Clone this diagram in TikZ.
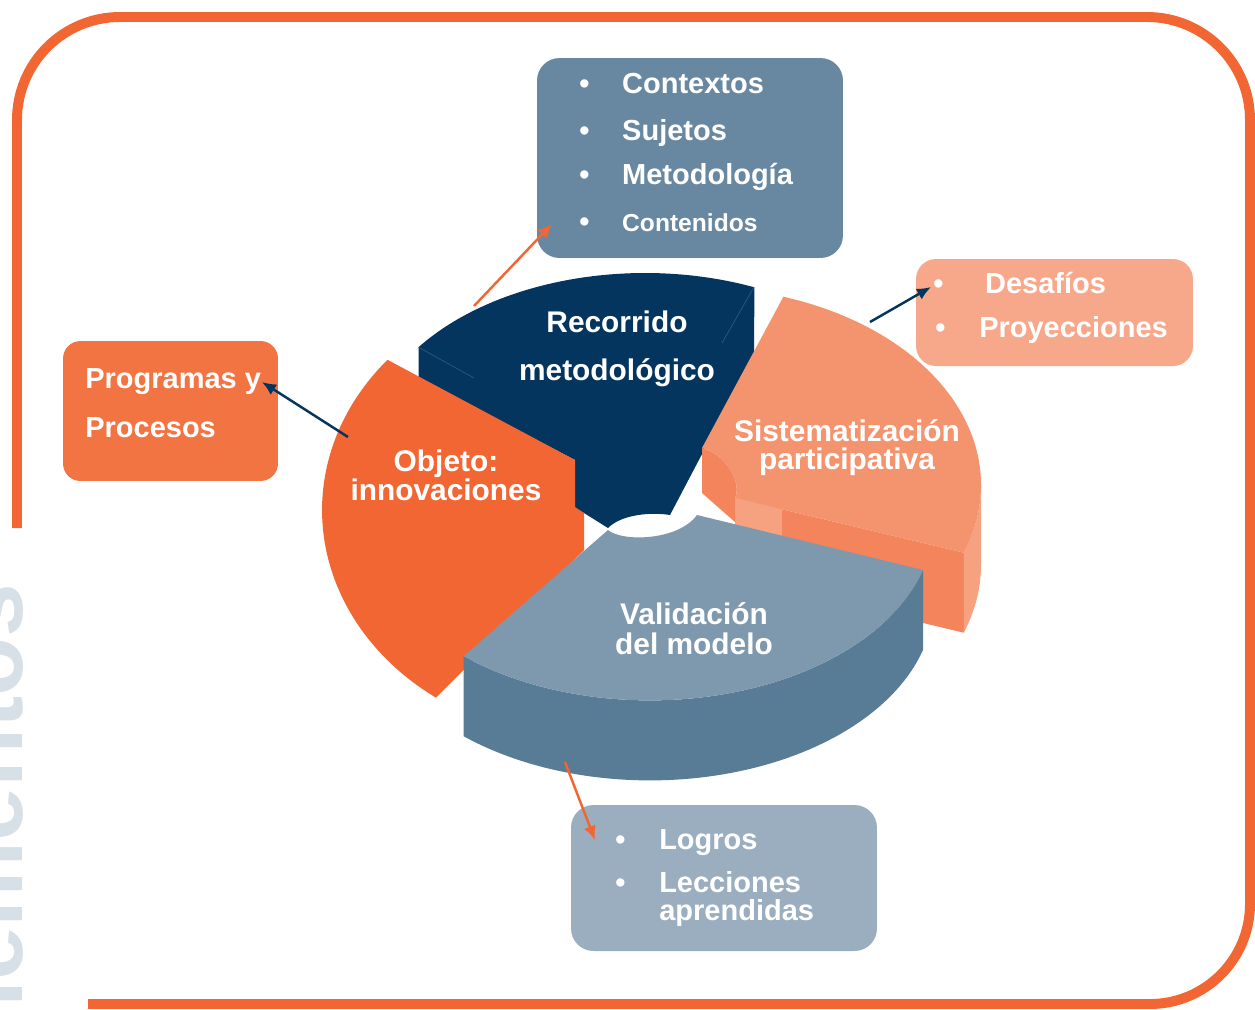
\documentclass[tikz,border=0pt]{standalone}
\usepackage{fontspec}
\setmainfont{Liberation Sans}
\usetikzlibrary{arrows.meta}

\definecolor{brandorange}{HTML}{F26633}
\definecolor{navy}{HTML}{03355F}
\definecolor{salmontop}{HTML}{F4946E}
\definecolor{salmonside}{HTML}{F3845B}
\definecolor{salmonlight}{HTML}{F6A281}
\definecolor{valtop}{HTML}{7E98AD}
\definecolor{valside}{HTML}{587B96}
\definecolor{ctxblue}{HTML}{6888A1}
\definecolor{despink}{HTML}{F8A88A}
\definecolor{progorange}{HTML}{F37443}
\definecolor{loggray}{HTML}{9AAEBF}
\definecolor{fadegray}{HTML}{D8E0E7}

\newcommand{\itemdot}[1]{\makebox[#1][l]{\fontsize{16.5}{18}\selectfont\textbullet}}

\tikzset{
  infobox/.style={rounded corners=0.45cm, inner sep=0pt},
  boxline/.style={anchor=base west, inner sep=0pt, text=white, font=\bfseries\fontsize{16.5}{18}\selectfont},
  slicelabel/.style={anchor=base, inner sep=0pt, text=white, font=\bfseries\fontsize{17}{19}\selectfont},
  link/.style={line width=1.4pt, -{Latex[length=8pt,width=7pt]}},
}

\begin{document}
\begin{tikzpicture}[x=0.02cm, y=-0.02cm]
  \useasboundingbox (0,0) rectangle (1255,1009);

  \node[rotate=90, anchor=base east, inner sep=0pt, text=fadegray, font=\bfseries\fontsize{55}{60}\selectfont] (bgword) at (22,583) {elementos};
  \draw[brandorange, line width=5.67pt] (17,528) -- (17,120) arc[start angle=180, end angle=270, radius=103] -- (1147,17) arc[start angle=270, end angle=360, radius=103] -- (1250,904) arc[start angle=0, end angle=90, radius=100] -- (88,1004);

  % pie slices, back to front
  \fill[navy] (418.5,347.2) arc[start angle=-144, end angle=-67, x radius=280, y radius=180] -- (754,355) -- (670,515) .. controls (652,512) and (622,514) .. (608,528) -- (584,513) -- (575,508) -- (575,460) -- (418.5,378) -- cycle;
  \draw[navy!82!white, line width=0.4pt] (418.5,347.2) -- (474,378);
  \draw[navy!82!white, line width=0.4pt] (754,287) -- (722,343);

  \fill[salmonside] (963.8,552.7) -- (735,498) -- (735,578) -- (963.8,632.7) -- cycle;
  \fill[salmonlight] (735,498) -- (782,509) -- (782,589) -- (735,578) -- cycle;
  \fill[salmonlight] (981,485) arc[start angle=0, end angle=20, x radius=286, y radius=198] -- ++(0,80) arc[start angle=20, end angle=0, x radius=286, y radius=198] -- cycle;
  \fill[salmonside] (702,448) .. controls (728,455) and (742,485) .. (735,498) -- (735,522) -- (702,493) -- cycle;
  \fill[salmontop] (783.4,296.7) arc[start angle=-72, end angle=20, x radius=286, y radius=198] -- (735,498) .. controls (742,485) and (728,455) .. (702,448) -- cycle;

  \fill[brandorange] (387.5,359.8) -- (575,460) -- (575,507) -- (584,513) -- (584,550) -- (435.9,697.6) arc[start angle=125, end angle=221, x radius=267, y radius=229] -- cycle;

  \fill[valside] (923,570) arc[start angle=16, end angle=131, x radius=284, y radius=180] -- ++(0,80) arc[start angle=131, end angle=16, x radius=284, y radius=180] -- cycle;
  \fill[valtop] (923,570) arc[start angle=16, end angle=131, x radius=284, y radius=180] -- (608,530) .. controls (622,542) and (678,541) .. (697,515) -- cycle;

  \node[slicelabel] (rec1) at (617,332) {Recorrido};
  \node[slicelabel] (rec2) at (617,380) {metodológico};
  \node[slicelabel] (sis1) at (847,441) {Sistematización};
  \node[slicelabel] (sis2) at (847,469) {participativa};
  \node[slicelabel] (obj1) at (446,471) {Objeto:};
  \node[slicelabel] (obj2) at (446,500) {innovaciones};
  \node[slicelabel] (val1) at (694,624) {Validación};
  \node[slicelabel] (val2) at (694,654) {del modelo};

  % boxes
  \node[infobox, fill=ctxblue, minimum width=6.12cm, minimum height=4cm] (ctx) at (690,158) {};
  \node[infobox, fill=despink, minimum width=5.54cm, minimum height=2.14cm, rounded corners=0.4cm] (des) at (1054.5,312.5) {};
  \node[infobox, fill=progorange, minimum width=4.3cm, minimum height=2.8cm, rounded corners=0.35cm] (prog) at (170.5,411) {};
  \node[infobox, fill=loggray, minimum width=6.12cm, minimum height=2.92cm] (logr) at (724,878) {};

  \node[boxline] (ctx1) at (579,93) {\itemdot{24.4pt}Contextos};
  \node[boxline] (ctx2) at (579,140) {\itemdot{24.4pt}Sujetos};
  \node[boxline] (ctx3) at (579,184) {\itemdot{24.4pt}Metodología};
  \node[boxline, font=\bfseries\fontsize{14}{16}\selectfont] (ctx4) at (579,231) {\itemdot{24.4pt}Contenidos};
  \node[boxline] (des1) at (933,293) {\itemdot{29.5pt}Desafíos};
  \node[boxline] (des2) at (935,337) {\itemdot{25pt}Proyecciones};
  \node[boxline] (prog1) at (85,388) {Programas y};
  \node[boxline] (prog2) at (85,437) {Procesos};
  \node[boxline] (log1) at (615,849) {\itemdot{25pt}Logros};
  \node[boxline] (log2) at (615,892) {\itemdot{25pt}Lecciones};
  \node[boxline] (log3) at (659,920) {aprendidas};

  % connectors
  \coordinate (recTail) at (474,306);
  \coordinate (ctxHead) at (552,224);
  \coordinate (sisTail) at (870,322);
  \coordinate (desHead) at (931,287);
  \coordinate (objTail) at (348,437);
  \coordinate (progHead) at (262,382);
  \coordinate (valTail) at (565,762);
  \coordinate (logHead) at (595,840);
  \draw[link, brandorange] (recTail) -- (ctxHead);
  \draw[link, navy] (sisTail) -- (desHead);
  \draw[link, navy] (objTail) -- (progHead);
  \draw[link, brandorange] (valTail) -- (logHead);
\end{tikzpicture}
\end{document}
